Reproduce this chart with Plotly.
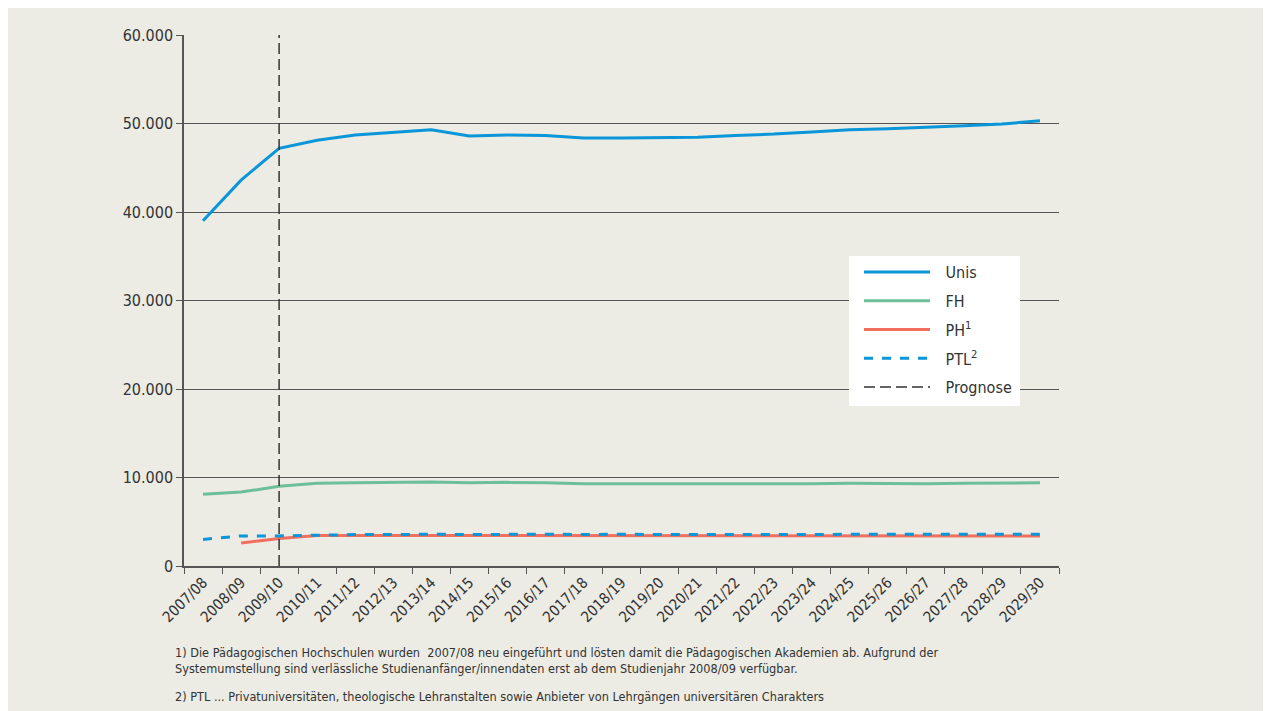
import plotly.graph_objects as go

years = ["2007/08", "2008/09", "2009/10", "2010/11", "2011/12", "2012/13", "2013/14",
         "2014/15", "2015/16", "2016/17", "2017/18", "2018/19", "2019/20", "2020/21",
         "2021/22", "2022/23", "2023/24", "2024/25", "2025/26", "2026/27", "2027/28",
         "2028/29", "2029/30"]

unis = [39000, 43600, 47200, 48100, 48700, 49000, 49300, 48600, 48700, 48650, 48350,
        48350, 48400, 48450, 48650, 48800, 49050, 49300, 49400, 49550, 49750, 49950, 50300]
fh = [8100, 8350, 9000, 9350, 9400, 9450, 9500, 9400, 9450, 9400, 9300, 9300, 9300,
      9250, 9250, 9300, 9300, 9350, 9300, 9300, 9350, 9400, 9400]
ph = [None, 2600, 3100, 3450, 3450, 3450, 3450, 3450, 3450, 3450, 3400, 3400, 3400,
      3400, 3400, 3400, 3400, 3400, 3400, 3400, 3400, 3400, 3400]
ptl = [3000, 3400, 3400, 3500, 3550, 3550, 3600, 3550, 3600, 3600, 3550, 3600, 3550,
       3550, 3550, 3550, 3550, 3550, 3550, 3550, 3550, 3600, 3600]
prognose_year = "2009/10"
ymax = 60000
yticks = [0, 10000, 20000, 30000, 40000, 50000, 60000]
yticklabels = ["0", "10.000", "20.000", "30.000", "40.000", "50.000", "60.000"]

footnote1 = ("1) Die Pädagogischen Hochschulen wurden  2007/08 neu eingeführt und lösten damit die "
             "Pädagogischen Akademien ab. Aufgrund der<br>Systemumstellung sind verlässliche "
             "Studienanfänger/innendaten erst ab dem Studienjahr 2008/09 verfügbar.")
footnote2 = ("2) PTL ... Privatuniversitäten, theologische Lehranstalten sowie Anbieter von "
             "Lehrgängen universitären Charakters")

FONT = "DejaVu Sans Condensed, Liberation Sans Narrow, sans-serif"
BG = "#ECEBE4"
TXT = "#333333"
PAD = "\u2800"

# plot-area pixel geometry (used only for converting layout positions)
PW, PH_ = 875, 531

fig = go.Figure()
fig.add_trace(go.Scatter(x=years, y=unis, mode="lines", name=PAD + "Unis",
                         line=dict(color="#0A96D9", width=3), legendgroup="a"))
fig.add_trace(go.Scatter(x=years, y=fh, mode="lines", name=PAD + "FH",
                         line=dict(color="#6CBF98", width=3), legendgroup="b"))
fig.add_trace(go.Scatter(x=years, y=ph, mode="lines", name=PAD + "PH<sup>1</sup>",
                         line=dict(color="#F26F5E", width=3), legendgroup="c"))
fig.add_trace(go.Scatter(x=years, y=ptl, mode="lines", name=PAD + "PTL<sup>2</sup>",
                         line=dict(color="#0A96D9", width=3, dash="9px,9px"), legendgroup="d"))
fig.add_trace(go.Scatter(x=[prognose_year, prognose_year], y=[0, ymax], mode="lines",
                         name=PAD + "Prognose",
                         line=dict(color="#333333", width=1.5, dash="11px,5px"),
                         legendgroup="e"))

fig.update_layout(
    width=1271, height=711,
    margin=dict(l=176, r=220, t=27, b=153),
    paper_bgcolor=BG, plot_bgcolor=BG,
    font=dict(family=FONT, color=TXT, size=16),
    showlegend=True,
    legend=dict(x=(859 - 184) / PW, y=(566 - 255) / PH_, xanchor="left", yanchor="top",
                bgcolor="rgba(0,0,0,0)",
                font=dict(size=16, color=TXT), tracegroupgap=5, itemwidth=66,
                borderwidth=0),
    xaxis=dict(type="category", range=[-0.5, 22.5], tickangle=-45, tickson="boundaries",
               ticks="outside", ticklen=6, tickcolor="#555555", showgrid=False,
               showline=True, linecolor="#555555", linewidth=1.5,
               tickfont=dict(size=15, color=TXT), zeroline=False),
    yaxis=dict(range=[0, ymax], tickvals=yticks, ticktext=yticklabels,
               ticks="outside", ticklen=6, tickcolor="#555555",
               showgrid=True, gridcolor="#555555", gridwidth=1,
               showline=True, linecolor="#555555", linewidth=1.5,
               zeroline=False, tickfont=dict(size=16, color=TXT)),
    shapes=[
        dict(type="rect", xref="paper", yref="paper",
             x0=(849 - 184) / PW, x1=(1020 - 184) / PW,
             y0=(566 - 406) / PH_, y1=(566 - 256) / PH_,
             fillcolor="white", line=dict(width=0), layer="above"),
    ],
    annotations=[
        dict(text=footnote1, xref="paper", yref="paper", x=-11 / PW, y=(566 - 643) / PH_,
             xanchor="left", yanchor="top", align="left", showarrow=False,
             font=dict(size=12.6, color=TXT)),
        dict(text=footnote2, xref="paper", yref="paper", x=-11 / PW, y=(566 - 687) / PH_,
             xanchor="left", yanchor="top", align="left", showarrow=False,
             font=dict(size=12.6, color=TXT)),
    ],
)

fig.write_html("out.html", post_script="document.body.style.overflow='hidden';")
